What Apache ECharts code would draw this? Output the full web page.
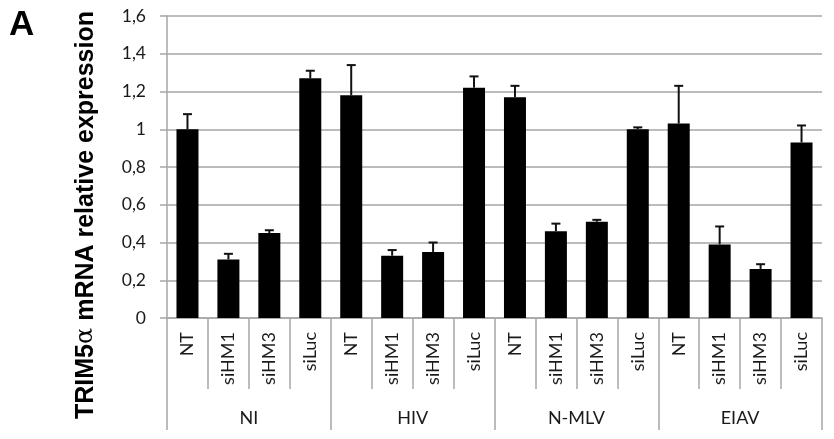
<!DOCTYPE html>
<html><head><meta charset="utf-8">
<script src="https://cdn.jsdelivr.net/npm/echarts@6/dist/echarts.min.js"></script>
<style>html,body{margin:0;padding:0;background:#fff}#c{width:834px;height:439px}</style>
</head><body><div id="c"></div>
<script>
const groups = ['NI', 'HIV', 'N-MLV', 'EIAV'];
const treatments = ['NT', 'siHM1', 'siHM3', 'siLuc'];
const categories = [
  'NT','siHM1','siHM3','siLuc',
  'NT','siHM1','siHM3','siLuc',
  'NT','siHM1','siHM3','siLuc',
  'NT','siHM1','siHM3','siLuc'
];
const values = [1.00, 0.31, 0.45, 1.27, 1.18, 0.33, 0.35, 1.22, 1.17, 0.46, 0.51, 1.00, 1.03, 0.39, 0.26, 0.93];
const errors = [0.08, 0.03, 0.015, 0.04, 0.16, 0.03, 0.05, 0.06, 0.06, 0.04, 0.01, 0.01, 0.20, 0.095, 0.025, 0.09];
const yTicks = [0, 0.2, 0.4, 0.6, 0.8, 1, 1.2, 1.4, 1.6];
const yTitleParts = ['TRIM5', 'α', ' mRNA relative expression'];

const chart = echarts.init(document.getElementById('c'));
const gray = '#a6a6a6';
const font = 'Lato, "Open Sans", sans-serif';
chart.setOption({
  animation: false,
  graphic: [
    { type: 'text', x: 9, y: 8, style: { text: 'A', font: 'bold 35px "Liberation Sans", Arial, sans-serif', fill: '#000' } },
    { type: 'text', x: 86, y: 215, rotation: Math.PI / 2,
      style: {
        text: '{b|' + yTitleParts[0] + '}{a|' + yTitleParts[1] + '}{b|' + yTitleParts[2] + '}',
        align: 'center', verticalAlign: 'middle',
        rich: {
          b: { fontSize: 25, fontWeight: 'bold', fontFamily: '"Liberation Sans", Arial, sans-serif', fill: '#000', color: '#000' },
          a: { fontSize: 24, fontWeight: 'normal', fontFamily: '"DejaVu Serif", serif', fill: '#000', color: '#000' }
        }
      } }
  ],
  grid: { left: 167, right: 12, top: 16, bottom: 121 },
  xAxis: [
    { type: 'category', data: categories, position: 'bottom',
      axisLine: { show: true, lineStyle: { color: gray, width: 1.5 } },
      axisTick: { show: true, interval: 0, length: 71, lineStyle: { color: gray, width: 1.5 } },
      axisLabel: { interval: 0, rotate: 90, margin: 14, fontSize: 18, color: '#1a1a1a', fontFamily: font } },
    { type: 'category', data: groups, position: 'bottom',
      axisLine: { show: false },
      axisTick: { show: true, interval: 0, length: 112, lineStyle: { color: gray, width: 1.5 } },
      axisLabel: { interval: 0, margin: 91, fontSize: 18, color: '#1a1a1a', fontFamily: font } }
  ],
  yAxis: {
    type: 'value', min: 0, max: 1.6, interval: 0.2,
    axisLine: { show: true, lineStyle: { color: gray, width: 1.5 } },
    axisTick: { show: true, length: 7, lineStyle: { color: gray, width: 1.5 } },
    splitLine: { show: true, lineStyle: { color: gray, width: 1.5 } },
    axisLabel: { margin: 21, fontSize: 17.5, color: '#1a1a1a', fontFamily: font,
      formatter: v => String(Math.round(v * 10) / 10).replace('.', ',') }
  },
  series: [
    { type: 'bar', xAxisIndex: 0, data: values, barWidth: 22,
      itemStyle: { color: '#000' } },
    { type: 'custom', xAxisIndex: 0, z: 5,
      data: values.map((v, i) => [i, v, v + errors[i]]),
      renderItem: (params, api) => {
        const x = api.value(0);
        const p1 = api.coord([x, api.value(1)]);
        const p2 = api.coord([x, api.value(2)]);
        const cw = 4.5;
        return { type: 'group', children: [
          { type: 'line', shape: { x1: p1[0], y1: p1[1], x2: p2[0], y2: p2[1] }, style: { stroke: '#111', lineWidth: 2 } },
          { type: 'line', shape: { x1: p2[0] - cw, y1: p2[1], x2: p2[0] + cw, y2: p2[1] }, style: { stroke: '#111', lineWidth: 2 } }
        ] };
      } }
  ]
});
</script></body></html>
